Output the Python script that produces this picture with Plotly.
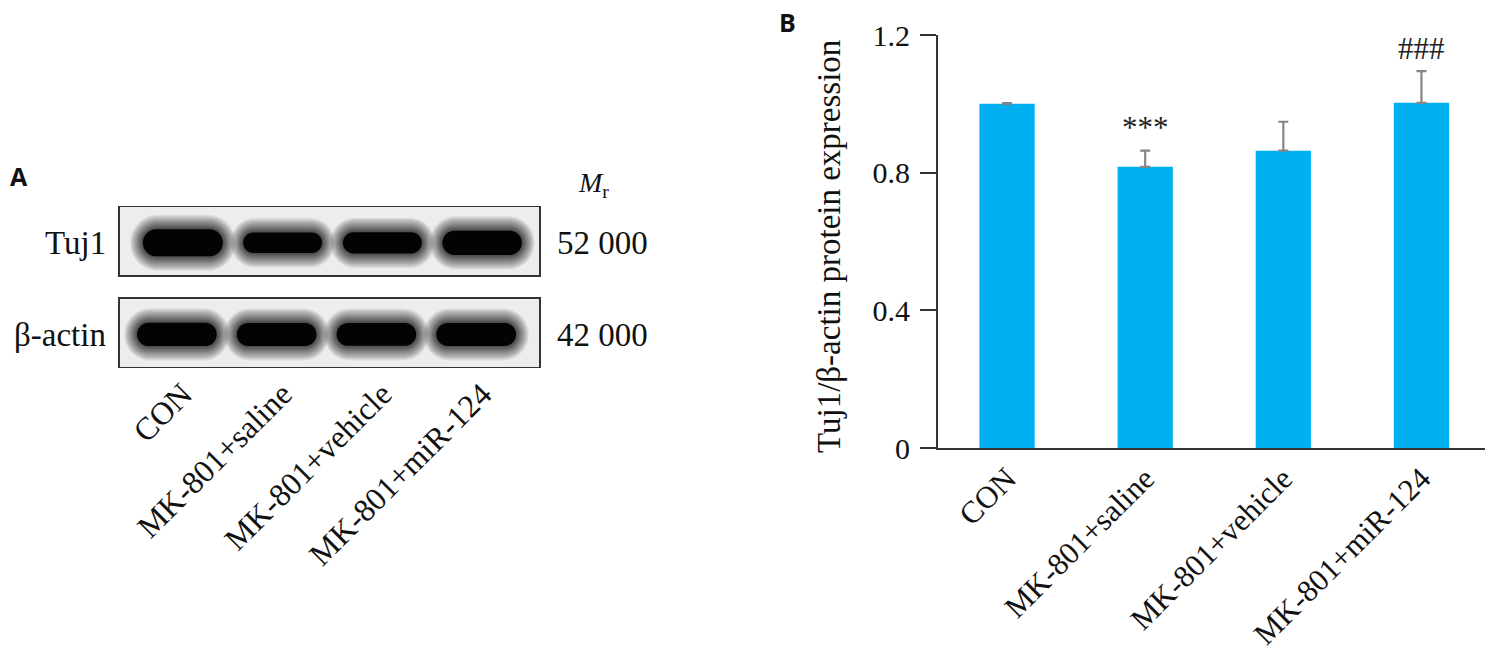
import plotly.graph_objects as go

# ---------------- data ----------------
groups = ["CON", "MK-801+saline", "MK-801+vehicle", "MK-801+miR-124"]
tuj1_ratio = [1.000, 0.817, 0.864, 1.003]
tuj1_ratio_sd = [0.002, 0.047, 0.084, 0.092]
significance = ["", "***", "", "###"]
y_ticks = [0, 0.4, 0.8, 1.2]
y_tick_labels = ["0", "0.4", "0.8", "1.2"]

blot_rows = ["Tuj1", "β-actin"]
blot_mr = ["52 000", "42 000"]
# relative band intensity (thickness)
tuj1_band = [1.00, 0.76, 0.79, 0.90]
actin_band = [0.93, 0.92, 0.91, 0.92]

# ---------------- style / layout constants ----------------
W, H = 1495, 653
SERIF = "Liberation Serif, Times New Roman, serif"
SANS_B = "Open Sans, Liberation Sans, Arial, sans-serif"
BAR_COLOR = "#00B0F0"
AX_COLOR = "#333333"

# panel A geometry (pixels)
A_left, A_right, A_top, A_bot = 119, 540, 206, 368
A_xr = [-0.64, 3.58]
A_yr = [-0.38, 1.38]
PXX = (A_right - A_left) / (A_xr[1] - A_xr[0])
PXY = (A_bot - A_top) / (A_yr[1] - A_yr[0])

# panel B geometry (pixels)
B_left, B_right, B_top, B_bot = 938, 1485, 35, 448


def px_dom_x(a, b):
    return [a / W, b / W]


def px_dom_y(top, bot):
    return [1 - bot / H, 1 - top / H]


fig = go.Figure()

# ---------------- panel B: bar chart ----------------
fig.add_trace(go.Bar(
    x=groups, y=tuj1_ratio, width=0.4,
    marker=dict(color=BAR_COLOR, line=dict(width=0)),
    error_y=dict(type="data", symmetric=False, array=tuj1_ratio_sd,
                 arrayminus=[0] * len(tuj1_ratio_sd),
                 color="#858585", thickness=2.2, width=5),
    xaxis="x", yaxis="y", showlegend=False, hoverinfo="x+y",
))

for g, v, e, s in zip(groups, tuj1_ratio, tuj1_ratio_sd, significance):
    if s:
        fig.add_annotation(x=g, y=v + e, xref="x", yref="y", text=s,
                           showarrow=False, yanchor="middle", yshift=23,
                           font=dict(family=SERIF, size=31, color="#222"))

# ---------------- panel A: western blot ----------------
fig.add_trace(go.Scatter(x=[0, 3], y=[0, 0], xaxis="x2", yaxis="y2",
                         mode="markers", marker=dict(opacity=0, size=1),
                         showlegend=False, hoverinfo="skip"))

shapes = []
row_centers = [1.0, 0.0]
box_half = 0.38
for rc in row_centers:
    shapes.append(dict(type="rect", xref="x2 domain", yref="y2", x0=0, x1=1,
                       y0=rc - box_half, y1=rc + box_half,
                       fillcolor="#ededed", line=dict(color=AX_COLOR, width=2),
                       layer="below"))


def rrect(xc, yc, hw_px, hh_px):
    sx, sy = 1 / PXX, 1 / PXY
    r = min(hw_px, hh_px)
    x0, x1 = xc - hw_px * sx, xc + hw_px * sx
    y0, y1 = yc - hh_px * sy, yc + hh_px * sy
    rx, ry = r * sx, r * sy
    k = 0.5523
    return (f"M {x0+rx},{y0} L {x1-rx},{y0} "
            f"C {x1-rx+k*rx},{y0} {x1},{y0+ry-k*ry} {x1},{y0+ry} "
            f"L {x1},{y1-ry} "
            f"C {x1},{y1-ry+k*ry} {x1-rx+k*rx},{y1} {x1-rx},{y1} "
            f"L {x0+rx},{y1} "
            f"C {x0+rx-k*rx},{y1} {x0},{y1-ry+k*ry} {x0},{y1-ry} "
            f"L {x0},{y0+ry} "
            f"C {x0},{y0+ry-k*ry} {x0+rx-k*rx},{y0} {x0+rx},{y0} Z")


band_sets = [(tuj1_band, row_centers[0] - 0.02, 0.0, 40, 13.5),
             (actin_band, row_centers[1] - 0.015, -0.06, 40, 12.5)]
halo_steps = [17, 15.5, 14, 12.5, 11, 9.6, 8.2, 7.0, 5.8, 4.7, 3.6, 2.6, 1.7, 0.8]
for intens, yc, xshift, hw, hh in band_sets:
    for lane, iv in enumerate(intens):
        xc = lane + xshift
        core_h = hh * iv
        core_w = hw * (0.94 + 0.06 * iv)
        for d in halo_steps:
            shapes.append(dict(type="path", xref="x2", yref="y2",
                               path=rrect(xc, yc, core_w + d * 0.75, core_h + d * 0.85),
                               fillcolor="rgba(0,0,0,0.075)", line=dict(width=0)))
        shapes.append(dict(type="path", xref="x2", yref="y2",
                           path=rrect(xc, yc, core_w, core_h),
                           fillcolor="#030303", line=dict(width=0)))

for name, mr, rc in zip(blot_rows, blot_mr, row_centers):
    fig.add_annotation(x=0, y=rc - 0.02, xref="x2 domain", yref="y2", text=name,
                       showarrow=False, xanchor="right", yanchor="middle", xshift=-11,
                       font=dict(family=SERIF, size=33, color="#111"))
    fig.add_annotation(x=1, y=rc - 0.02, xref="x2 domain", yref="y2", text=mr,
                       showarrow=False, xanchor="left", yanchor="middle", xshift=15,
                       font=dict(family=SERIF, size=33, color="#111"))

fig.add_annotation(x=576 / W, y=1 - 184 / H, xref="paper", yref="paper",
                   text="<i>M</i><sub>r</sub>", showarrow=False,
                   xanchor="left", yanchor="middle",
                   font=dict(family=SERIF, size=28, color="#111"))

# panel letters
fig.add_annotation(x=8 / W, y=1 - 176 / H, xref="paper", yref="paper", text="<b>A</b>",
                   showarrow=False, xanchor="left", yanchor="middle",
                   font=dict(family=SANS_B, size=25, color="#111"))
fig.add_annotation(x=777 / W, y=1 - 22 / H, xref="paper", yref="paper", text="<b>B</b>",
                   showarrow=False, xanchor="left", yanchor="middle",
                   font=dict(family=SANS_B, size=25, color="#111"))

# y-axis title for panel B
fig.add_annotation(x=829 / W, y=1 - 247 / H, xref="paper", yref="paper",
                   text="Tuj1/β-actin protein expression", textangle=-90,
                   showarrow=False, xanchor="center", yanchor="middle",
                   font=dict(family=SERIF, size=33, color="#111"))

fig.update_layout(
    width=W, height=H,
    margin=dict(l=0, r=0, t=0, b=0, autoexpand=False),
    paper_bgcolor="white", plot_bgcolor="white",
    shapes=shapes,
    xaxis=dict(domain=px_dom_x(B_left, B_right), anchor="y",
               range=[-0.5, 3.46], type="category", automargin=False,
               showline=True, linecolor=AX_COLOR, linewidth=2,
               ticks="", tickangle=-45, ticklabelstandoff=-2,
               tickfont=dict(family=SERIF, size=31, color="#111"),
               showgrid=False, zeroline=False, fixedrange=True),
    yaxis=dict(domain=px_dom_y(B_top, B_bot), anchor="x", automargin=False,
               range=[0, 1.2], tickvals=y_ticks, ticktext=y_tick_labels,
               showline=True, linecolor=AX_COLOR, linewidth=2,
               ticks="outside", ticklen=16, tickwidth=2, tickcolor=AX_COLOR,
               ticklabelstandoff=4,
               tickfont=dict(family=SERIF, size=30, color="#111"),
               showgrid=False, zeroline=False, fixedrange=True),
    xaxis2=dict(domain=px_dom_x(A_left, A_right), anchor="y2", automargin=False,
                range=A_xr, tickvals=[0, 1, 2, 3], ticktext=groups,
                tickangle=-45, ticks="", showline=False, showgrid=False,
                zeroline=False, ticklabelstandoff=0, fixedrange=True,
                tickfont=dict(family=SERIF, size=32, color="#111")),
    yaxis2=dict(domain=px_dom_y(A_top, A_bot), anchor="x2", automargin=False,
                range=A_yr, visible=False, fixedrange=True),
)

fig.write_html("out.html", config={"displayModeBar": False},
               post_script="document.body.style.margin='0';document.body.style.overflow='hidden';")
